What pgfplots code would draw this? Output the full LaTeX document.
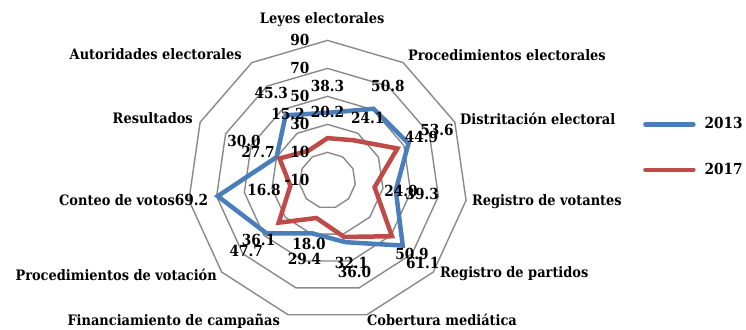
\documentclass[border=0pt]{standalone}
\usepackage{fontspec}
\setmainfont{DejaVu Serif Condensed}
\usepackage{pgfplots}
\pgfplotsset{compat=1.18}
\usepgfplotslibrary{polar}
\definecolor{s13}{HTML}{4A7EBB}
\definecolor{s17}{HTML}{BE4B48}
\definecolor{gridc}{HTML}{898989}
\tikzset{cat/.style={inner sep=0pt},
  tl/.style={anchor=east, inner sep=0pt, xshift=-18pt}}
\newcommand{\numfont}{\fontsize{15.2}{18}\selectfont\bfseries}
\begin{document}
\fontsize{14.4}{17}\selectfont\bfseries
\begin{tikzpicture}
\begin{polaraxis}[
  scale only axis, width=280pt, height=280pt,
  at={(0pt,0pt)}, anchor=center,
  xmin=0, xmax=360, ymin=-10, ymax=90,
  y coord trafo/.code={\pgfmathparse{#1+10}},
  y coord inv trafo/.code={\pgfmathparse{#1-10}},
  hide axis, grid=none, xtick=\empty, ytick=\empty,
  clip=false,
  legend style={draw=none, fill=none, at={(1.616,0.619)}, anchor=west,
    row sep=28pt, font=\numfont,
    /tikz/every odd column/.append style={column sep=7pt}},
  legend cell align=left,
  legend image code/.code={\draw[#1, line cap=round] (0pt,0pt) -- (48pt,0pt);},
]
\coordinate (O) at (axis cs:0,-10);
\pgfplotsinvokeforeach{10,30,50,70,90}{
  \addplot[gridc, line width=1.4pt, mark=none, forget plot] coordinates {(90,#1) (57.2727,#1) (24.5455,#1) (351.8182,#1) (319.0909,#1) (286.3636,#1) (253.6364,#1) (220.9091,#1) (188.1818,#1) (155.4545,#1) (122.7273,#1)} -- cycle;
}
\addplot[s13, line width=4.5pt, mark=none] coordinates {(90,38.3) (57.2727,50.8) (24.5455,53.6) (351.8182,39.3) (319.0909,61.1) (286.3636,36.0) (253.6364,29.4) (220.9091,47.7) (188.1818,69.2) (155.4545,30.0) (122.7273,45.3)} -- cycle;
\addlegendentry{2013}
\addplot[s17, line width=4.5pt, mark=none] coordinates {(90,20.2) (57.2727,24.1) (24.5455,44.9) (351.8182,24.0) (319.0909,50.9) (286.3636,32.1) (253.6364,18.0) (220.9091,36.1) (188.1818,16.8) (155.4545,27.7) (122.7273,15.2)} -- cycle;
\addlegendentry{2017}
% data labels (2013)
\addplot[draw=none, mark=none, forget plot, nodes near coords, point meta=explicit symbolic,
  every node near coord/.append style={anchor=center, inner sep=0pt, text=black, font=\numfont}]
  coordinates {(90,57.3)[38.3] (57.2727,69.8)[50.8] (24.5455,76.0)[53.6] (351.8182,58.3)[39.3] (319.0909,80.1)[61.1] (286.3636,58.4)[36.0] (253.6364,48.4)[29.4] (220.9091,66.7)[47.7] (188.1818,88.2)[69.2] (154.7,55.9)[30.0] (122.7273,64.3)[45.3]};
% data labels (2017)
\addplot[draw=none, mark=none, forget plot, nodes near coords, point meta=explicit symbolic,
  every node near coord/.append style={anchor=center, inner sep=0pt, text=black, font=\numfont}]
  coordinates {(90,39.2)[20.2] (57.2727,43.1)[24.1] (24.5455,63.9)[44.9] (351.8182,43.0)[24.0] (319.0909,69.9)[50.9] (286.3636,51.1)[32.1] (253.6364,37.0)[18.0] (220.9091,55.1)[36.1] (188.1818,35.8)[16.8] (157.8,43.6)[27.7] (120.75,45.2)[15.2]};
% radial tick labels
\node[tl, font=\numfont] at (axis cs:90,-10) {-10};
\node[tl, font=\numfont] at (axis cs:90,10) {10};
\node[tl, font=\numfont] at (axis cs:90,30) {30};
\node[tl, font=\numfont] at (axis cs:90,50) {50};
\node[tl, font=\numfont] at (axis cs:90,70) {70};
\node[tl, font=\numfont] at (axis cs:90,90) {90};
% category labels
\node[cat, anchor=base, xshift=-5.3pt, yshift=16.4pt] at (axis cs:90,90) {Leyes electorales};
\node[cat, anchor=base west, xshift=4.7pt, yshift=2.6pt] at (axis cs:57.2727,90) {Procedimientos electorales};
\node[cat, anchor=base west, xshift=5.2pt, yshift=-1.8pt] at (axis cs:24.5455,90) {Distritación electoral};
\node[cat, anchor=base west, xshift=5.9pt, yshift=-4.7pt] at (axis cs:351.8182,90) {Registro de votantes};
\node[cat, anchor=base west, xshift=6.7pt, yshift=-5.9pt] at (axis cs:319.0909,90) {Registro de partidos};
\node[cat, anchor=base west, xshift=0pt, yshift=-10.3pt] at (axis cs:286.3636,90) {Cobertura mediática};
\node[cat, anchor=base east, xshift=-8pt, yshift=-10.3pt] at (axis cs:253.6364,90) {Financiamiento de campañas};
\node[cat, anchor=base east, xshift=-4.7pt, yshift=-8pt] at (axis cs:220.9091,90) {Procedimientos de votación};
\node[cat, anchor=base east, xshift=-13.9pt, yshift=-5.4pt] at (axis cs:188.1818,90) {Conteo de votos};
\node[cat, anchor=base east, xshift=-7.2pt, yshift=-1.1pt] at (axis cs:155.4545,90) {Resultados};
\node[cat, anchor=base east, xshift=-9.9pt, yshift=3.3pt] at (axis cs:122.7273,90) {Autoridades electorales};
\end{polaraxis}
\pgfresetboundingbox
\path[use as bounding box] (O) ++(-327.5pt,-148.6pt) rectangle ++(746pt,329pt);
\end{tikzpicture}
\end{document}
